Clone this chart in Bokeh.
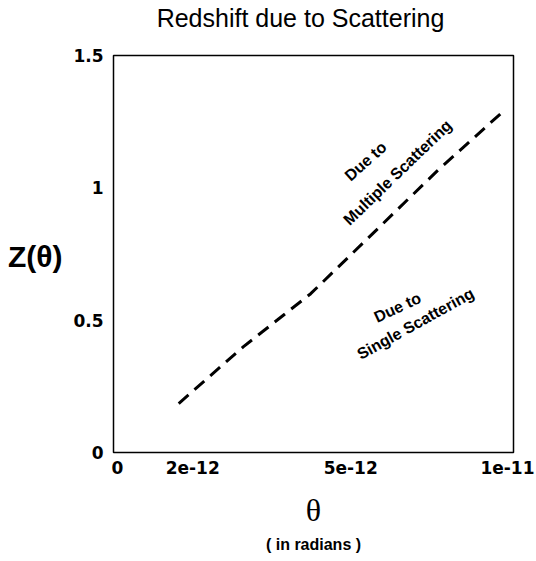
from bokeh.plotting import figure
from bokeh.models import Range1d, FixedTicker, LinearAxis, Title
from bokeh.core.properties import value
from bokeh.embed import file_html
from bokeh.resources import INLINE

# theta in units of 1e-12 rad, redshift z
theta = [1.63, 3.25, 4.93, 6.5, 8.1, 9.75]
z = [0.185, 0.40, 0.60, 0.83, 1.065, 1.29]

x_tick_pos = [0.1, 1.98, 5.93, 9.85]
x_tick_labels = ["0", "2e-12", "5e-12", "1e-11"]
y_ticks = [0, 0.5, 1, 1.5]
y_tick_labels = ["0", "0.5", "1", "1.5"]

title_text = "Redshift due to Scattering"
FONT = "Liberation Sans"
TICKFONT = "DejaVu Sans"

p = figure(width=536, height=561, output_backend="svg", toolbar_location=None,
           x_range=Range1d(0, 10), y_range=Range1d(0, 1.5),
           min_border_left=113, min_border_right=23, min_border_top=55, min_border_bottom=109)
p.grid.visible = False
p.background_fill_color = "white"
p.border_fill_color = "white"
p.outline_line_color = "black"
p.outline_line_width = 1.5

def style_axis(ax):
    ax.axis_line_color = None
    ax.major_tick_line_color = None
    ax.minor_tick_line_color = None
    ax.major_tick_out = 0
    ax.major_tick_in = 0
    ax.major_label_text_font = TICKFONT
    ax.major_label_text_font_size = "17px"
    ax.major_label_text_font_style = "bold"
    ax.major_label_text_color = "black"

for ax in (p.xaxis[0], p.yaxis[0]):
    style_axis(ax)

p.xaxis.ticker = FixedTicker(ticks=x_tick_pos)
p.xaxis.major_label_overrides = {t: l for t, l in zip(x_tick_pos, x_tick_labels)}
p.xaxis.major_label_standoff = 8
p.xaxis.axis_label = "θ"
p.xaxis.axis_label_text_font = "Liberation Serif"
p.xaxis.axis_label_text_font_size = "32px"
p.xaxis.axis_label_text_font_style = "normal"
p.xaxis.axis_label_text_color = "black"
p.xaxis.axis_label_standoff = 15

p.yaxis.ticker = FixedTicker(ticks=y_ticks)
p.yaxis.major_label_overrides = {t: l for t, l in zip(y_ticks, y_tick_labels)}
p.yaxis.major_label_standoff = 10

# title as an extra axis above with one label
title_pos = 4.675
ta = LinearAxis(ticker=FixedTicker(ticks=[title_pos]),
                major_label_overrides={title_pos: title_text})
style_axis(ta)
ta.major_label_text_font = FONT
ta.major_label_text_font_size = "25px"
ta.major_label_text_font_style = "normal"
ta.major_label_standoff = 24
p.add_layout(ta, "above")

# horizontal y-axis title as an extra left axis with a single label
ylab_pos = 0.74
yl = LinearAxis(ticker=FixedTicker(ticks=[ylab_pos]),
                major_label_overrides={ylab_pos: "Z(θ)"})
style_axis(yl)
yl.major_label_text_font = FONT
yl.major_label_text_font_size = "30px"
yl.major_label_standoff = 8
p.add_layout(yl, "left")

p.add_layout(Title(text="( in radians )", align="center", text_font=FONT,
                   text_font_size="16px", text_font_style="bold",
                   text_color="black", standoff=6), "below")

p.line(theta, z, line_color="black", line_width=3, line_dash="13 8")

# annotations inside the plot
ann_text = ["Due to", "Multiple Scattering", "Due to", "Single Scattering"]
ann_x = [6.3, 7.1, 7.1, 7.55]
ann_y = [1.10, 1.058, 0.548, 0.487]
ann_angle = [42, 44, 25, 29]
p.text(x=ann_x, y=ann_y, text=ann_text, angle=ann_angle, angle_units="deg",
       text_font=value(FONT), text_font_size="16px", text_font_style="bold",
       text_align="center", text_baseline="middle", text_color="black")

open("out.html", "w").write(file_html(p, INLINE))
